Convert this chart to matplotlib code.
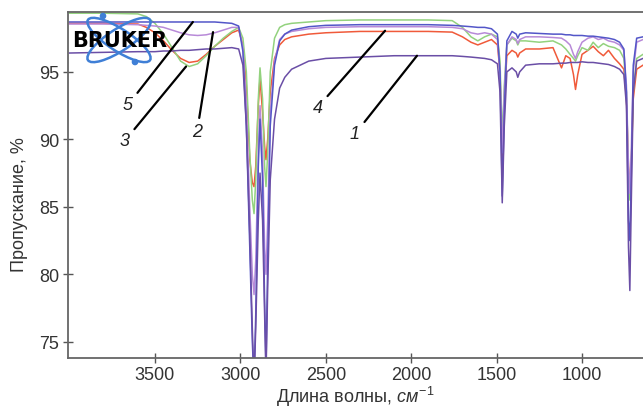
import numpy as np
import matplotlib
matplotlib.use("Agg")
import matplotlib.pyplot as plt
from matplotlib.patches import Ellipse, Circle

plt.rcParams['font.family'] = ['Liberation Sans', 'DejaVu Sans']
plt.rcParams['mathtext.fontset'] = 'custom'
plt.rcParams['mathtext.rm'] = 'Liberation Sans'
plt.rcParams['mathtext.it'] = 'Liberation Sans:italic'

# wavenumber grid, cm-1
wavenumber = [4000, 3800, 3600, 3550, 3500, 3450, 3400, 3350, 3300, 3250, 3200, 3150, 3100, 3050,
              3010, 2985, 2965, 2945, 2930, 2920, 2910, 2895, 2885, 2870, 2858, 2850, 2840, 2825,
              2800, 2770, 2740, 2700, 2600, 2500, 2300, 2100, 1900, 1760, 1700, 1650, 1610, 1570,
              1530, 1495, 1480, 1467, 1455, 1440, 1410, 1385, 1376, 1365, 1330, 1250, 1170, 1120,
              1095, 1070, 1050, 1038, 1025, 1000, 965, 935, 905, 875, 845, 810, 780, 755, 740,
              728, 720, 712, 700, 680, 643]

# transmission, %
spec_1 = [96.4, 96.45, 96.5, 96.5, 96.5, 96.55, 96.55, 96.6, 96.6, 96.65, 96.7, 96.7, 96.75, 96.8,
          96.7, 95.5, 91.0, 83.0, 76.0, 72.0, 76.0, 84.0, 87.5, 84.0, 77.0, 72.5, 79.0, 87.0,
          91.5, 93.8, 94.6, 95.2, 95.8, 96.0, 96.1, 96.2, 96.2, 96.2, 96.15, 96.1, 96.05, 96.0,
          95.9, 95.6, 93.5, 85.3, 91.0, 95.0, 95.3, 95.0, 94.6, 95.0, 95.5, 95.6, 95.6, 95.65,
          95.65, 95.7, 95.7, 95.7, 95.7, 95.75, 95.7, 95.7, 95.65, 95.6, 95.55, 95.4, 95.2, 94.8, 92.5,
          82.0, 78.8, 85.0, 93.5, 95.8, 96.0]
spec_2 = [98.55, 98.55, 98.5, 98.45, 98.4, 98.3, 98.1, 97.9, 97.75, 97.7, 97.75, 97.9, 98.1, 98.3,
          98.3, 96.8, 92.5, 85.0, 80.0, 78.5, 81.0, 89.0, 92.5, 89.0, 82.0, 80.0, 84.0, 92.0,
          95.8, 97.4, 97.8, 98.0, 98.2, 98.3, 98.35, 98.35, 98.35, 98.3, 98.2, 97.9, 97.8, 97.9,
          97.8, 97.4, 95.0, 89.0, 93.5, 97.0, 97.6, 97.4, 97.1, 97.4, 97.6, 97.6, 97.55, 97.5,
          97.3, 97.0, 96.3, 96.0, 96.5, 97.2, 97.5, 97.6, 97.4, 97.5, 97.3, 97.2, 97.0, 96.6, 94.0,
          88.0, 86.0, 89.0, 95.0, 97.2, 97.4]
spec_3 = [99.35, 99.35, 99.3, 99.1, 98.6, 97.8, 96.8, 95.8, 95.4, 95.6, 96.2, 96.9, 97.5, 98.0,
          98.3, 97.5, 95.0, 89.0, 85.5, 84.5, 87.0, 93.0, 95.3, 93.0, 88.0, 86.5, 89.0, 95.0,
          97.5, 98.3, 98.5, 98.6, 98.7, 98.8, 98.85, 98.85, 98.85, 98.8, 98.3, 97.6, 97.3, 97.6,
          97.8, 97.6, 95.8, 90.0, 94.0, 97.0, 97.5, 97.3, 97.0, 97.3, 97.3, 97.2, 97.3, 97.0,
          96.7, 96.3, 96.0, 95.8, 96.2, 96.8, 96.6, 97.2, 96.8, 97.1, 96.9, 96.8, 96.6, 96.0, 93.5,
          87.5, 85.5, 88.0, 93.5, 96.0, 96.3]
spec_4 = [98.6, 98.6, 98.55, 98.3, 97.9, 97.3, 96.6, 96.0, 95.7, 95.8, 96.3, 96.9, 97.4, 97.9,
          98.1, 97.0, 94.0, 88.5, 86.8, 86.5, 88.0, 92.5, 94.5, 92.0, 89.5, 88.5, 90.0, 93.5,
          96.0, 97.0, 97.4, 97.6, 97.8, 97.9, 98.0, 98.0, 98.0, 97.95, 97.6, 97.2, 97.0, 97.2,
          97.4, 97.0, 95.0, 88.5, 93.0, 96.2, 96.6, 96.4, 96.1, 96.4, 96.7, 96.7, 96.8, 95.3,
          96.2, 96.0, 94.8, 93.7, 94.8, 96.3, 96.6, 96.9, 96.5, 96.2, 96.6, 96.0, 95.6, 95.2, 93.0,
          88.0, 86.5, 88.0, 93.0, 95.2, 95.5]
spec_5 = [98.7, 98.7, 98.7, 98.7, 98.7, 98.7, 98.7, 98.7, 98.7, 98.7, 98.7, 98.7, 98.65, 98.6,
          98.4, 96.5, 91.0, 82.0, 75.0, 72.0, 77.0, 88.0, 91.5, 87.0, 78.0, 73.0, 81.0, 91.0,
          95.5, 97.3, 97.8, 98.1, 98.35, 98.45, 98.5, 98.5, 98.5, 98.45, 98.4, 98.35, 98.3, 98.3,
          98.2, 97.8, 95.0, 85.8, 92.0, 97.3, 98.0, 97.8, 97.5, 97.8, 97.9, 97.85, 97.8, 97.8,
          97.75, 97.75, 97.7, 97.7, 97.7, 97.7, 97.65, 97.65, 97.6, 97.55, 97.5, 97.4, 97.2, 96.7, 93.5,
          84.0, 82.5, 87.0, 95.5, 97.5, 97.6]

spectra = [spec_4, spec_3, spec_2, spec_5, spec_1]
colors = ['#f05a3a', '#93d27e', '#b88ad8', '#5356c8', '#6a4ea6']

# curve labels: text position and the point the leader goes to
label_names = ['1', '2', '3', '4', '5']
label_text_pos = [(2329, 90.4), (3254, 90.55), (3676, 89.9), (2546, 92.4), (3658, 92.55)]
label_point = [(1966, 96.2), (3160, 97.95), (3318, 95.4), (2153, 98.05), (3278, 98.7)]

fig = plt.figure(figsize=(6.43, 4.14), dpi=100)
ax = fig.add_axes([68 / 643, 1 - 359 / 414, 1 - 68 / 643, 346 / 414])

for y, c in zip(spectra, colors):
    ax.plot(wavenumber, y, color=c, lw=1.1)

for name, tpos, pt in zip(label_names, label_text_pos, label_point):
    ax.annotate(name, xy=pt, xytext=tpos, fontsize=13, style='italic',
                ha='center', va='center', color='#222222',
                arrowprops=dict(arrowstyle='-', color='black', lw=1.6,
                                shrinkA=2, shrinkB=0))

ax.set_xlim(4009, 643)
ax.set_ylim(73.8, 99.44)
ax.set_xticks([3500, 3000, 2500, 2000, 1500, 1000])
ax.set_yticks([75, 80, 85, 90, 95])
ax.tick_params(direction='inout', length=7, width=1, color='#555555',
               labelsize=13, labelcolor='#333333', pad=3)
ax.tick_params(axis='x', pad=2)
for s in ['left', 'bottom', 'top']:
    ax.spines[s].set_color('#666666')
    ax.spines[s].set_linewidth(1.3)
ax.spines['right'].set_visible(False)

ax.set_xlabel(r'Длина волны, $\mathit{см}^{-1}$', fontsize=13, color='#333333', labelpad=1)
ax.set_ylabel('Пропускание, %', fontsize=13, color='#333333')
ax.yaxis.set_label_coords(-0.07, 0.445)

# Bruker logo
logo = fig.add_axes([68 / 643, 1 - 75 / 414, 110 / 643, 65 / 414])
logo.set_xlim(0, 110)
logo.set_ylim(0, 65)
logo.axis('off')
for ang in (33, -33):
    logo.add_patch(Ellipse((51, 34), 74, 22, angle=ang, fill=False,
                           ec='#3f7fd6', lw=1.8))
for cx, cy in [(35, 58), (67, 12)]:
    logo.add_patch(Circle((cx, cy), 2.6, color='#3f7fd6'))
logo.text(51.5, 34, 'BRUKER', fontsize=15, fontweight='heavy', family='DejaVu Sans',
          ha='center', va='center', color='black')

fig.savefig('out.png', dpi=100)
